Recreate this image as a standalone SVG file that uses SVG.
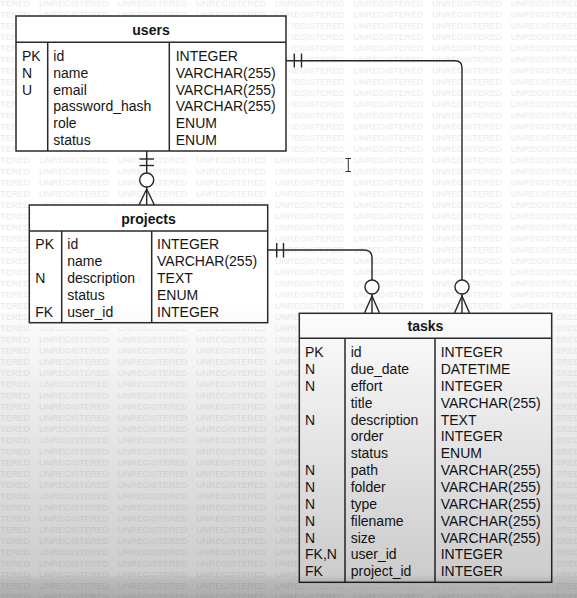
<svg xmlns="http://www.w3.org/2000/svg" width="577" height="598" viewBox="0 0 577 598">
<style>
.box{fill:#fff;stroke:#2a2a2a;stroke-width:1.5}
.div{stroke:#2a2a2a;stroke-width:1.5;fill:none}
.t{font-family:"Liberation Sans",Arial,sans-serif;font-size:14px;fill:#151515}
.title{font-family:"Liberation Sans",Arial,sans-serif;font-size:14px;font-weight:bold;fill:#151515}
.wm{font-family:"Liberation Sans",Arial,sans-serif;font-size:8.8px;fill:#e7e7e7}
.ln{stroke:#262626;stroke-width:1.4;fill:none}
.circ{stroke:#262626;stroke-width:1.4;fill:#fff}
.halo{fill:#fff;opacity:0.65}
</style>
<defs>
<pattern id="wmp" patternUnits="userSpaceOnUse" x="39" y="-3" width="78.6" height="11.2">
<text class="wm" x="0" y="9">UNREGISTERED</text>
</pattern>
<linearGradient id="fade" x1="0" y1="0" x2="0" y2="1">
<stop offset="0" stop-color="#000" stop-opacity="0"/>
<stop offset="0.5" stop-color="#000" stop-opacity="0"/>
<stop offset="0.96" stop-color="#000" stop-opacity="0.2"/>
<stop offset="0.97" stop-color="#000" stop-opacity="0.27"/>
<stop offset="1" stop-color="#000" stop-opacity="0.33"/>
</linearGradient>
</defs>
<rect width="577" height="598" fill="#fff"/>
<rect width="577" height="598" fill="url(#wmp)"/>
<rect class="halo" x="16" y="16" width="276" height="140"/>
<rect class="halo" x="29" y="205" width="244" height="124"/>
<rect class="halo" x="299" y="313" width="258" height="275"/>

<g id="connectors">
<line class="ln" x1="146.7" y1="151" x2="146.7" y2="205"/>
<line class="ln" x1="139.5" y1="159" x2="154" y2="159"/>
<line class="ln" x1="139.5" y1="165.5" x2="154" y2="165.5"/>
<circle class="circ" cx="146.7" cy="180" r="7"/>
<path class="ln" d="M139 205 L146.7 189 L154.4 205"/>
<path class="ln" d="M286 60.7 H455 Q462 60.7 462 67.7 V313"/>
<line class="ln" x1="294.3" y1="53.5" x2="294.3" y2="67.5"/>
<line class="ln" x1="301.5" y1="53.5" x2="301.5" y2="67.5"/>
<circle class="circ" cx="462" cy="287" r="7"/>
<path class="ln" d="M454.5 313 L462 296 L469.5 313"/>
<path class="ln" d="M267.7 250 H364 Q372 250 372 258 V313"/>
<line class="ln" x1="276.7" y1="243" x2="276.7" y2="257.5"/>
<line class="ln" x1="283.5" y1="243" x2="283.5" y2="257.5"/>
<circle class="circ" cx="372" cy="287" r="7"/>
<path class="ln" d="M364.5 313 L372 296 L379.5 313"/>
</g>

<g id="users">
<rect class="box" x="16" y="16" width="270" height="135"/>
<line class="div" x1="16" y1="42.3" x2="286" y2="42.3"/>
<line class="div" x1="47.7" y1="42.3" x2="47.7" y2="151"/>
<line class="div" x1="169.3" y1="42.3" x2="169.3" y2="151"/>
<text class="title" x="151" y="35" text-anchor="middle">users</text>
<text class="t" x="22" y="61">PK</text><text class="t" x="53.3" y="61">id</text><text class="t" x="175.7" y="61">INTEGER</text>
<text class="t" x="22" y="77.8">N</text><text class="t" x="53.3" y="77.8">name</text><text class="t" x="175.7" y="77.8">VARCHAR(255)</text>
<text class="t" x="22" y="94.6">U</text><text class="t" x="53.3" y="94.6">email</text><text class="t" x="175.7" y="94.6">VARCHAR(255)</text>
<text class="t" x="53.3" y="111.4">password_hash</text><text class="t" x="175.7" y="111.4">VARCHAR(255)</text>
<text class="t" x="53.3" y="128.2">role</text><text class="t" x="175.7" y="128.2">ENUM</text>
<text class="t" x="53.3" y="145">status</text><text class="t" x="175.7" y="145">ENUM</text>
</g>

<g id="projects">
<rect class="box" x="29.3" y="205" width="238.4" height="117.7"/>
<line class="div" x1="29.3" y1="231" x2="267.7" y2="231"/>
<line class="div" x1="61.7" y1="231" x2="61.7" y2="322.7"/>
<line class="div" x1="151.7" y1="231" x2="151.7" y2="322.7"/>
<text class="title" x="148.5" y="223.5" text-anchor="middle">projects</text>
<text class="t" x="35.3" y="249">PK</text><text class="t" x="67.3" y="249">id</text><text class="t" x="157" y="249">INTEGER</text>
<text class="t" x="67.3" y="266">name</text><text class="t" x="157" y="266">VARCHAR(255)</text>
<text class="t" x="35.3" y="283">N</text><text class="t" x="67.3" y="283">description</text><text class="t" x="157" y="283">TEXT</text>
<text class="t" x="67.3" y="300">status</text><text class="t" x="157" y="300">ENUM</text>
<text class="t" x="35.3" y="317">FK</text><text class="t" x="67.3" y="317">user_id</text><text class="t" x="157" y="317">INTEGER</text>
</g>

<g id="tasks">
<rect class="box" x="299.3" y="313.3" width="252.4" height="269"/>
<line class="div" x1="299.3" y1="338.3" x2="551.7" y2="338.3"/>
<line class="div" x1="345" y1="338.3" x2="345" y2="582.3"/>
<line class="div" x1="435" y1="338.3" x2="435" y2="582.3"/>
<text class="title" x="425.5" y="330.5" text-anchor="middle">tasks</text>
<text class="t" x="305" y="357">PK</text><text class="t" x="350.7" y="357">id</text><text class="t" x="440.7" y="357">INTEGER</text>
<text class="t" x="305" y="373.9">N</text><text class="t" x="350.7" y="373.9">due_date</text><text class="t" x="440.7" y="373.9">DATETIME</text>
<text class="t" x="305" y="390.7">N</text><text class="t" x="350.7" y="390.7">effort</text><text class="t" x="440.7" y="390.7">INTEGER</text>
<text class="t" x="350.7" y="407.6">title</text><text class="t" x="440.7" y="407.6">VARCHAR(255)</text>
<text class="t" x="305" y="424.5">N</text><text class="t" x="350.7" y="424.5">description</text><text class="t" x="440.7" y="424.5">TEXT</text>
<text class="t" x="350.7" y="441.4">order</text><text class="t" x="440.7" y="441.4">INTEGER</text>
<text class="t" x="350.7" y="458.2">status</text><text class="t" x="440.7" y="458.2">ENUM</text>
<text class="t" x="305" y="475.1">N</text><text class="t" x="350.7" y="475.1">path</text><text class="t" x="440.7" y="475.1">VARCHAR(255)</text>
<text class="t" x="305" y="492">N</text><text class="t" x="350.7" y="492">folder</text><text class="t" x="440.7" y="492">VARCHAR(255)</text>
<text class="t" x="305" y="508.8">N</text><text class="t" x="350.7" y="508.8">type</text><text class="t" x="440.7" y="508.8">VARCHAR(255)</text>
<text class="t" x="305" y="525.7">N</text><text class="t" x="350.7" y="525.7">filename</text><text class="t" x="440.7" y="525.7">VARCHAR(255)</text>
<text class="t" x="305" y="542.6">N</text><text class="t" x="350.7" y="542.6">size</text><text class="t" x="440.7" y="542.6">VARCHAR(255)</text>
<text class="t" x="305" y="559.4">FK,N</text><text class="t" x="350.7" y="559.4">user_id</text><text class="t" x="440.7" y="559.4">INTEGER</text>
<text class="t" x="305" y="576.3">FK</text><text class="t" x="350.7" y="576.3">project_id</text><text class="t" x="440.7" y="576.3">INTEGER</text>
</g>

<path d="M345.5 158.5 H351 M348.3 158.5 V171.5 M345.5 171.5 H351" stroke="#333" stroke-width="1" fill="none"/>
<rect width="577" height="598" fill="url(#fade)"/>
</svg>
